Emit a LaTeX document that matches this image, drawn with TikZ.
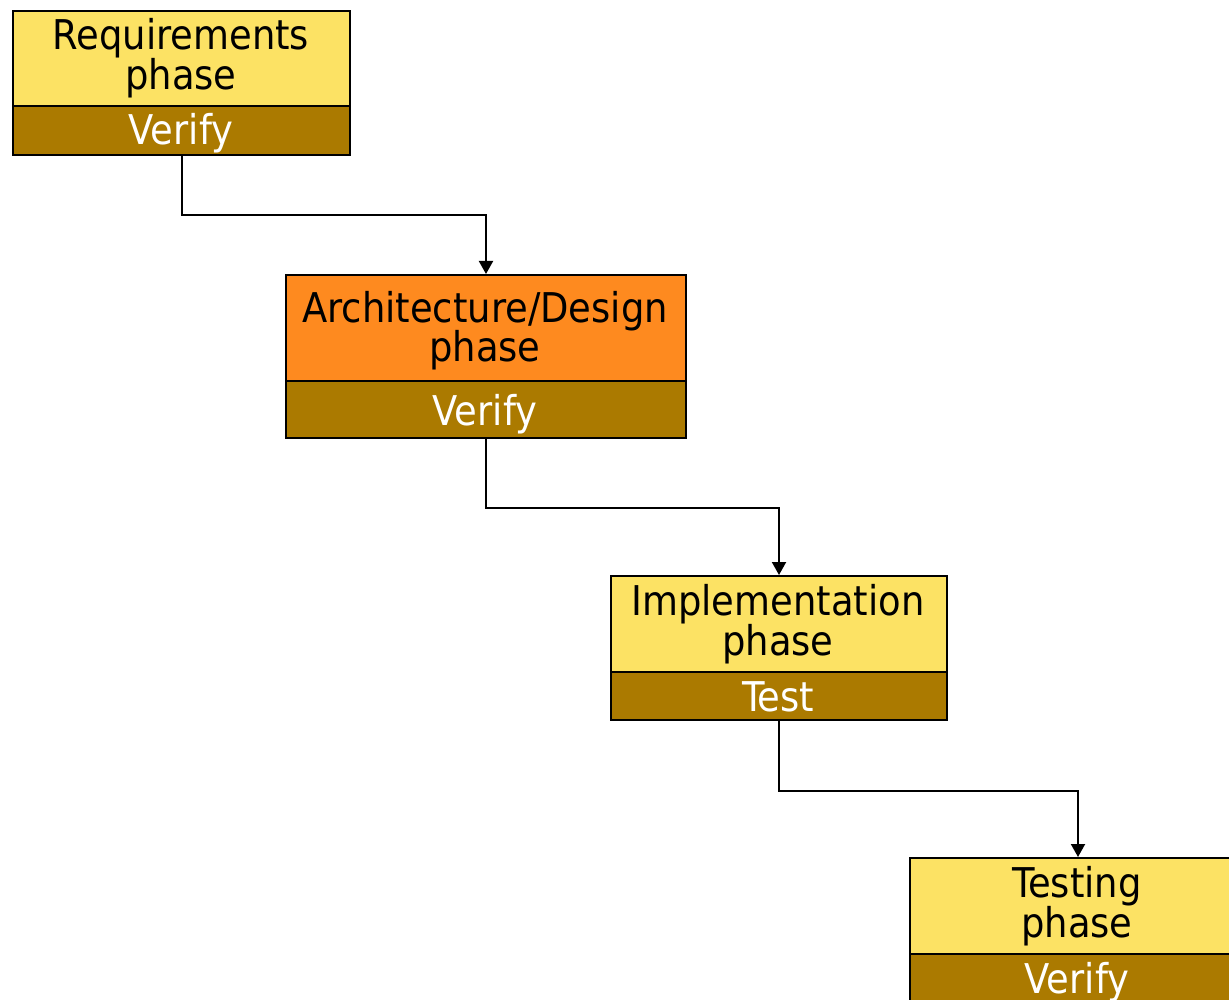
\documentclass[tikz,border=0pt]{standalone}
\usepackage{fontspec}
\setmainfont{DejaVu Sans Condensed}
\usetikzlibrary{arrows.meta}
\definecolor{phaseyellow}{HTML}{FCE264}
\definecolor{phaseorange}{HTML}{FE8A1F}
\definecolor{checkbrown}{HTML}{AB7A00}
\tikzset{
  phasebox/.style={draw=black, line width=2pt, anchor=north west, inner sep=0pt},
  phasetext/.style={anchor=base, inner sep=0pt, text=black, font=\fontsize{41}{40}\selectfont},
  checktext/.style={anchor=base, inner sep=0pt, text=white, font=\fontsize{41}{40}\selectfont},
  conn/.style={draw=black, line width=2pt, -{Triangle[length=13pt,width=14pt]}},
}
\begin{document}
\begin{tikzpicture}[x=1pt,y=-1pt]
\useasboundingbox (0,0) rectangle (1229,1000);
% Requirements
\node[phasebox, fill=phaseyellow, minimum width=337pt, minimum height=95pt] (r1) at (12,10) {};
\node[phasebox, fill=checkbrown, minimum width=337pt, minimum height=49pt] (v1) at (12,105) {};
\node[phasetext] (t1a) at (181,50) {Requirements};
\node[phasetext] (t1b) at (181,90) {phase};
\node[checktext] (c1) at (181,145) {Verify};
% Architecture
\node[phasebox, fill=phaseorange, minimum width=400pt, minimum height=106pt] (r2) at (285,274) {};
\node[phasebox, fill=checkbrown, minimum width=400pt, minimum height=57pt] (v2) at (285,380) {};
\node[phasetext] (t2a) at (485,323) {Architecture/Design};
\node[phasetext] (t2b) at (485,362) {phase};
\node[checktext] (c2) at (485,425) {Verify};
% Implementation
\node[phasebox, fill=phaseyellow, minimum width=336pt, minimum height=96pt] (r3) at (610,575) {};
\node[phasebox, fill=checkbrown, minimum width=336pt, minimum height=48pt] (v3) at (610,671) {};
\node[phasetext] (t3a) at (778,615) {Implementation};
\node[phasetext] (t3b) at (778,655) {phase};
\node[checktext] (c3) at (778,711) {Test};
% Testing
\node[phasebox, fill=phaseyellow, minimum width=336pt, minimum height=96pt] (r4) at (909,857) {};
\node[phasebox, fill=checkbrown, minimum width=336pt, minimum height=49pt] (v4) at (909,953) {};
\node[phasetext] (t4a) at (1077,897) {Testing};
\node[phasetext] (t4b) at (1077,937) {phase};
\node[checktext] (c4) at (1077,993) {Verify};
% connectors
\draw[conn] (v1.south) -- ++(0,59) -| (r2.north);
\draw[conn] (v2.south) -- ++(0,69) -| (r3.north);
\draw[conn] (v3.south) -- ++(0,70) -| (r4.north);
\end{tikzpicture}
\end{document}
